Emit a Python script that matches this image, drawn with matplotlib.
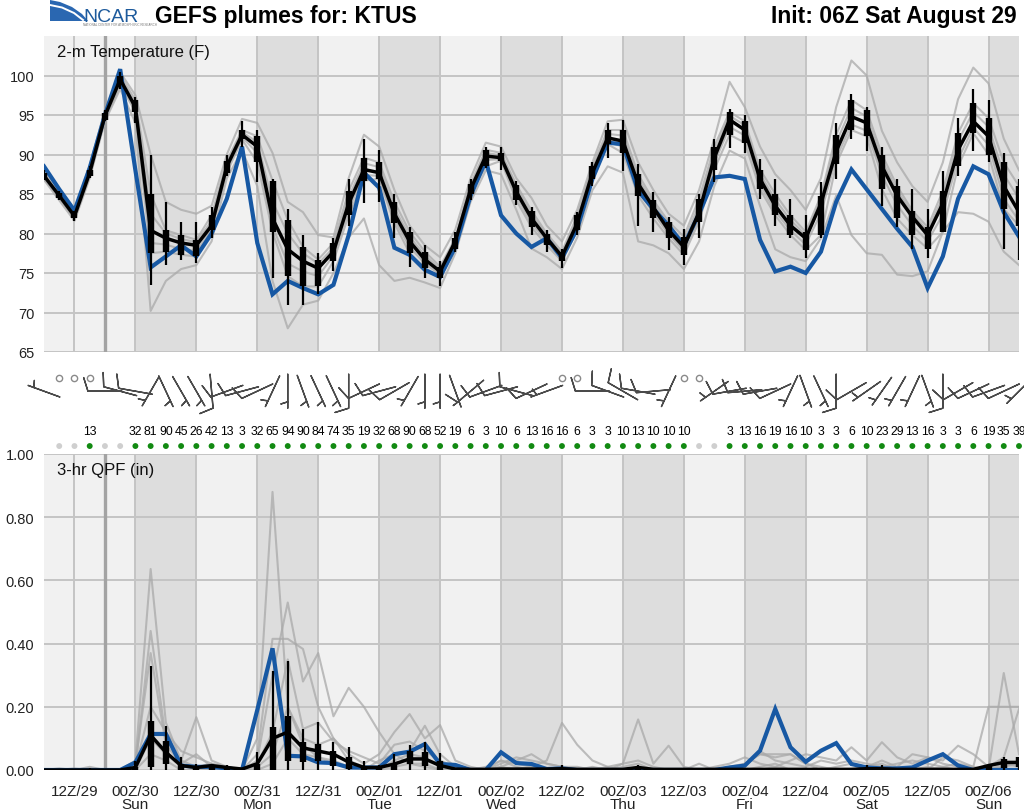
import numpy as np
import pandas as pd
import matplotlib
matplotlib.use('Agg')
import matplotlib.pyplot as plt
from matplotlib.patches import Polygon

plt.rcParams['font.family'] = ['Liberation Sans', 'DejaVu Sans']

# ---- dados ----
station = 'KTUS'
init = pd.Timestamp('2020-08-29 06:00')
hours = np.arange(0, 193, 3)          # horas de previsao, a cada 3 h

# 2-m temperatura (F): media do ensemble, controle (azul), caixa e bigodes
temp_mean = [87.3, 84.8, 82.2, 87.7, 94.9, 99.5, 96.0, 80.4, 79.4, 78.8,
             78.5, 81.0, 88.5, 92.5, 91.0, 81.9, 78.0, 76.5, 75.6, 77.7,
             83.8, 88.1, 87.7, 82.5, 79.0, 76.7, 75.2, 79.0, 85.6, 89.8,
             89.6, 85.3, 81.9, 79.4, 77.1, 81.3, 87.7, 92.1, 91.7, 86.3,
             83.3, 80.4, 78.3, 82.7, 89.6, 94.4, 93.1, 86.9, 83.5, 81.0,
             79.4, 83.8, 90.4, 94.8, 94.0, 88.5, 84.8, 82.1, 79.8, 83.8,
             90.6, 94.2, 92.3, 86.0, 82.7]
temp_ctrl = [88.5, 85.6, 82.9, 88.3, 95.0, 100.8, 88.0, 75.7, 77.1, 78.5,
             77.1, 80.0, 84.4, 91.0, 78.8, 72.3, 74.0, 73.1, 72.3, 73.5,
             79.8, 87.7, 85.8, 78.2, 77.3, 75.4, 74.5, 78.3, 84.8, 89.2,
             82.3, 80.0, 78.3, 79.4, 76.9, 80.6, 86.9, 91.5, 91.3, 85.4,
             83.1, 81.0, 78.5, 82.5, 87.1, 87.3, 86.9, 79.2, 75.2, 75.8,
             75.0, 77.7, 84.0, 88.1, 85.6, 83.1, 80.6, 78.3, 73.1, 77.1,
             84.4, 88.5, 87.5, 82.7, 79.6]
temp_box_lo = [87.0, 84.5, 81.9, 87.3, 94.4, 98.8, 95.4, 77.5, 77.7, 77.3,
               77.1, 80.4, 87.7, 91.9, 89.0, 80.2, 74.6, 73.3, 73.3, 76.5,
               82.3, 86.7, 86.9, 81.3, 77.5, 75.6, 74.4, 78.1, 85.0, 88.5,
               89.2, 84.2, 80.8, 78.5, 76.5, 80.4, 86.9, 91.3, 90.2, 84.8,
               81.9, 79.4, 77.3, 81.5, 88.1, 92.5, 91.5, 85.6, 82.3, 79.8,
               77.9, 79.8, 88.8, 93.1, 92.3, 85.6, 81.9, 79.8, 78.1, 80.2,
               88.5, 92.7, 90.0, 83.1, 81.0]
temp_box_hi = [87.6, 85.1, 82.5, 88.1, 95.2, 100.0, 96.9, 85.0, 80.4, 79.8,
               79.2, 82.3, 89.2, 93.1, 92.3, 86.7, 81.7, 78.3, 76.7, 78.8,
               85.4, 89.6, 89.0, 84.0, 80.2, 77.7, 75.8, 79.4, 86.3, 90.6,
               90.2, 86.2, 82.9, 80.0, 77.7, 82.3, 88.5, 93.1, 93.1, 87.5,
               84.2, 81.5, 79.6, 84.4, 91.0, 95.4, 94.2, 88.1, 85.0, 82.3,
               80.2, 84.8, 92.5, 96.9, 95.6, 90.0, 86.0, 82.9, 80.8, 85.4,
               92.7, 96.5, 94.6, 89.0, 86.0]
temp_whisk_lo = [86.8, 84.2, 81.6, 87.0, 94.2, 98.3, 94.0, 73.5, 76.0, 76.7,
                 76.3, 79.4, 87.3, 91.0, 86.5, 74.4, 71.0, 71.0, 72.3, 75.2,
                 81.0, 83.8, 84.0, 79.4, 75.8, 74.4, 73.3, 77.7, 84.2, 88.3,
                 88.1, 83.6, 79.8, 77.7, 75.6, 79.8, 86.0, 89.6, 87.9, 81.0,
                 80.2, 77.9, 76.0, 79.4, 86.5, 90.8, 90.2, 84.4, 81.0, 79.4,
                 76.9, 79.4, 86.9, 91.9, 90.4, 83.5, 80.8, 78.1, 76.9, 80.2,
                 87.3, 90.4, 89.0, 78.1, 76.7]
temp_whisk_hi = [88.0, 85.4, 82.8, 88.6, 95.6, 100.4, 97.3, 90.0, 84.0, 81.5,
                 81.5, 83.3, 90.0, 94.2, 93.1, 86.9, 83.1, 79.8, 77.5, 79.4,
                 86.9, 91.9, 90.6, 85.0, 80.8, 78.5, 76.5, 80.2, 86.9, 91.0,
                 91.0, 86.7, 83.3, 80.4, 78.1, 82.7, 89.0, 94.0, 94.4, 88.8,
                 85.2, 82.1, 80.6, 85.0, 91.9, 95.8, 95.0, 89.4, 86.9, 84.4,
                 82.3, 86.5, 94.0, 97.7, 96.0, 91.0, 86.9, 85.6, 83.1, 87.9,
                 94.6, 98.3, 96.9, 90.2, 86.9]

# alguns membros do ensemble (linhas cinzas)
tmem_a = [88.0, 85.5, 83.0, 88.6, 95.6, 100.4, 97.5, 90.0, 84.0, 83.0,
          82.5, 83.5, 90.0, 94.5, 94.0, 90.2, 84.0, 82.7, 79.8, 79.5,
          87.0, 92.5, 91.0, 85.5, 81.0, 78.5, 77.0, 80.5, 87.0, 91.5,
          91.0, 87.0, 84.5, 81.0, 79.0, 83.0, 89.0, 94.2, 94.4, 89.0,
          85.5, 82.5, 81.0, 85.5, 92.0, 99.2, 96.0, 91.0, 87.5, 85.5,
          83.0, 87.0, 96.0, 101.9, 100.0, 93.0, 89.0, 86.0, 84.0, 89.0,
          97.0, 101.0, 99.0, 92.0, 88.0]
tmem_b = [86.8, 84.2, 81.6, 87.0, 94.2, 98.3, 94.0, 70.2, 74.0, 75.5,
          76.0, 79.0, 87.0, 90.5, 86.0, 74.0, 68.0, 71.0, 71.5, 75.0,
          79.5, 81.9, 76.0, 74.0, 74.4, 73.8, 73.1, 77.5, 84.0, 88.0,
          87.5, 83.0, 78.1, 77.0, 75.5, 79.5, 85.5, 88.5, 87.7, 79.0,
          78.5, 77.5, 75.5, 79.0, 86.0, 90.5, 89.5, 83.5, 78.0, 77.0,
          76.5, 79.4, 84.8, 79.8, 77.5, 77.3, 74.8, 74.6, 75.2, 80.2,
          82.7, 82.5, 81.5, 77.7, 76.0]
tmem_c = [87.6, 85.1, 82.5, 88.2, 95.4, 100.0, 96.9, 85.0, 80.4, 79.8,
          79.2, 82.3, 89.2, 93.1, 92.3, 86.7, 81.7, 78.3, 76.7, 78.8,
          85.4, 89.6, 89.0, 84.0, 80.2, 77.7, 75.8, 79.4, 86.3, 90.6,
          90.2, 86.2, 82.9, 80.0, 77.7, 82.3, 88.5, 93.1, 93.1, 87.5,
          84.2, 81.5, 79.6, 84.4, 91.0, 95.4, 94.2, 88.1, 85.0, 82.3,
          80.2, 84.8, 92.5, 96.9, 95.6, 90.0, 86.0, 82.9, 80.8, 85.4,
          92.7, 96.5, 94.6, 89.0, 86.0]
tmem_d = [87.0, 84.5, 81.9, 87.3, 94.4, 98.8, 95.4, 77.5, 77.7, 77.3,
          77.1, 80.4, 87.7, 91.9, 89.0, 80.2, 74.6, 73.3, 73.3, 76.5,
          82.3, 86.7, 86.9, 81.3, 77.5, 75.6, 74.4, 78.1, 85.0, 88.5,
          89.2, 84.2, 80.8, 78.5, 76.5, 80.4, 86.9, 91.3, 90.2, 84.8,
          81.9, 79.4, 77.3, 81.5, 88.1, 92.5, 91.5, 85.6, 82.3, 79.8,
          77.9, 79.8, 88.8, 93.1, 92.3, 85.6, 81.9, 79.8, 78.1, 80.2,
          88.5, 92.7, 90.0, 83.1, 81.0]
tmem_e = [87.4, 84.9, 82.4, 87.9, 95.1, 99.7, 96.4, 82.5, 80.0, 79.3,
          78.9, 81.6, 88.9, 92.8, 91.6, 84.0, 80.0, 77.5, 76.2, 78.2,
          84.6, 88.9, 88.4, 83.2, 79.6, 77.2, 75.5, 79.2, 85.9, 90.2,
          89.9, 85.8, 82.4, 79.7, 77.4, 81.8, 88.1, 92.6, 92.4, 86.9,
          83.8, 81.0, 79.0, 83.6, 90.3, 94.9, 93.7, 87.5, 84.3, 81.7,
          79.8, 84.3, 91.5, 95.9, 94.8, 89.3, 85.4, 82.5, 80.3, 84.6,
          91.7, 95.4, 93.5, 87.5, 84.4]
tmem_f = [87.1, 84.6, 82.0, 87.5, 94.6, 99.1, 95.7, 78.8, 78.6, 78.0,
          77.8, 80.6, 88.1, 92.2, 90.2, 80.9, 76.2, 75.2, 74.6, 77.2,
          83.0, 87.4, 87.3, 81.8, 78.3, 76.2, 74.8, 78.6, 85.3, 89.3,
          89.4, 84.8, 81.3, 79.0, 76.8, 80.8, 87.3, 91.6, 91.0, 85.5,
          82.6, 79.9, 77.8, 82.0, 88.9, 93.5, 92.4, 86.2, 82.8, 80.4,
          78.6, 82.6, 89.5, 93.8, 93.0, 87.4, 83.6, 81.0, 79.0, 82.4,
          89.4, 93.4, 91.2, 84.4, 81.6]

# precipitacao 3 h (in)
qpf_mean = [0, 0, 0, 0, 0, 0, 0.008, 0.11, 0.056, 0.014,
            0.008, 0.014, 0.008, 0.003, 0.02, 0.10, 0.12, 0.07, 0.06, 0.05,
            0.025, 0.008, 0.008, 0.019, 0.035, 0.035, 0.014, 0.003, 0.002, 0.002,
            0.003, 0.003, 0.003, 0.003, 0.004, 0.002, 0.002, 0.002, 0.002, 0.008,
            0.002, 0.002, 0.002, 0.002, 0.002, 0.002, 0.002, 0.002, 0.002, 0.002,
            0.002, 0.002, 0.002, 0.002, 0.004, 0.004, 0.002, 0.002, 0.002, 0.002,
            0.002, 0.002, 0.014, 0.024, 0.024]
qpf_ctrl = [0, 0, 0, 0, 0, 0, 0.024, 0.114, 0.114, 0.014,
            0.01, 0.01, 0.005, 0, 0.19, 0.385, 0.045, 0.043, 0.024, 0.022,
            0.008, 0.008, 0.008, 0.05, 0.058, 0.082, 0.019, 0.016, 0, 0,
            0.056, 0.022, 0.019, 0.003, 0.005, 0, 0, 0, 0, 0,
            0, 0, 0, 0, 0, 0.008, 0.014, 0.061, 0.193, 0.072,
            0.026, 0.061, 0.085, 0.019, 0.008, 0.005, 0.005, 0.008, 0.03, 0.05,
            0.014, 0, 0, 0, 0]
qpf_box_lo = [0, 0, 0, 0, 0, 0, 0, 0.008, 0.019, 0,
              0, 0, 0, 0, 0, 0, 0.03, 0.024, 0.03, 0.014,
              0.003, 0, 0, 0, 0.019, 0.014, 0, 0, 0, 0,
              0, 0, 0, 0, 0, 0, 0, 0, 0, 0,
              0, 0, 0, 0, 0, 0, 0, 0, 0, 0,
              0, 0, 0, 0, 0, 0, 0, 0, 0, 0,
              0, 0, 0, 0.005, 0.01]
qpf_box_hi = [0, 0.003, 0.003, 0.003, 0, 0, 0.01, 0.156, 0.093, 0.02,
              0.01, 0.015, 0.01, 0, 0.02, 0.135, 0.172, 0.088, 0.082, 0.061,
              0.04, 0.01, 0.01, 0.02, 0.06, 0.058, 0.03, 0, 0, 0,
              0, 0, 0, 0, 0.005, 0, 0, 0, 0, 0.005,
              0, 0, 0, 0, 0, 0, 0, 0, 0, 0,
              0, 0, 0, 0, 0.004, 0.004, 0, 0, 0, 0,
              0, 0, 0.015, 0.035, 0.04]
qpf_whisk_hi = [0.002, 0.004, 0.004, 0.006, 0, 0, 0.03, 0.33, 0.14, 0.04,
                0.02, 0.02, 0.015, 0.005, 0.056, 0.314, 0.346, 0.13, 0.153, 0.09,
                0.072, 0.03, 0.015, 0.05, 0.08, 0.088, 0.054, 0.004, 0, 0,
                0.006, 0.004, 0.004, 0.004, 0.015, 0.004, 0, 0, 0, 0.015,
                0.003, 0, 0, 0, 0, 0, 0.004, 0.004, 0.004, 0.004,
                0, 0, 0.004, 0.004, 0.015, 0.015, 0.004, 0.004, 0.004, 0.004,
                0.004, 0.004, 0.02, 0.04, 0.04]
qpf_whisk_lo = [0.0] * 65   # minimo do ensemble e zero em todos os horarios

qmem_a = [0, 0, 0.005, 0, 0, 0, 0.03, 0.636, 0.15, 0.03,
          0.01, 0.02, 0, 0, 0.10, 0.88, 0.20, 0.08, 0.04, 0.02,
          0.01, 0, 0.03, 0.05, 0.02, 0.01, 0, 0, 0, 0,
          0, 0, 0.01, 0.03, 0.149, 0.08, 0.03, 0.01, 0, 0,
          0, 0, 0, 0, 0, 0.01, 0.02, 0.05, 0.04, 0.05,
          0.02, 0.01, 0, 0, 0.01, 0.02, 0, 0, 0.01, 0,
          0, 0, 0, 0.307, 0.05]
qmem_b = [0, 0.005, 0, 0.01, 0, 0, 0.01, 0.44, 0.10, 0.03,
          0.167, 0.03, 0.01, 0, 0.05, 0.415, 0.415, 0.383, 0.2, 0.1,
          0.05, 0.02, 0.05, 0.12, 0.177, 0.10, 0.142, 0.03, 0.01, 0,
          0.02, 0.04, 0.03, 0.02, 0.01, 0, 0, 0, 0.02, 0.16,
          0.02, 0.077, 0.01, 0, 0, 0, 0.01, 0.06, 0.03, 0.02,
          0.01, 0.03, 0.02, 0.03, 0.02, 0.01, 0.02, 0.03, 0.02, 0.01,
          0.02, 0.01, 0.2, 0.2, 0.2]
qmem_c = [0, 0, 0, 0, 0, 0, 0.02, 0.37, 0.08, 0.02,
          0.05, 0.01, 0, 0, 0.03, 0.3, 0.53, 0.28, 0.37, 0.17,
          0.26, 0.2, 0.12, 0.05, 0.06, 0.14, 0.05, 0.01, 0, 0,
          0.01, 0.03, 0.05, 0.02, 0.01, 0.01, 0, 0.01, 0.02, 0.03,
          0.01, 0, 0, 0, 0.01, 0.02, 0.04, 0.02, 0.01, 0.03,
          0.05, 0.04, 0.03, 0.072, 0.03, 0.088, 0.04, 0.02, 0.04, 0.03,
          0.077, 0.05, 0.01, 0.04, 0.193]
qmem_d = [0, 0, 0, 0, 0, 0, 0.01, 0.2, 0.12, 0.06,
          0.04, 0.02, 0.01, 0, 0.02, 0.12, 0.35, 0.13, 0.15, 0.09,
          0.06, 0.04, 0.02, 0.08, 0.09, 0.06, 0.03, 0.01, 0, 0.01,
          0.03, 0.02, 0.01, 0, 0, 0, 0.01, 0, 0.01, 0.02,
          0, 0, 0, 0.02, 0, 0, 0.02, 0.05, 0.05, 0.05,
          0.02, 0, 0.01, 0.02, 0.01, 0.03, 0.01, 0.05, 0.04, 0.02,
          0.01, 0, 0, 0.01, 0.02]
qmem_e = [0, 0, 0, 0, 0, 0, 0, 0.1, 0.05, 0.01,
          0.01, 0, 0, 0, 0.01, 0.05, 0.2, 0.1, 0.08, 0.1,
          0.03, 0.01, 0, 0.03, 0.05, 0.04, 0.01, 0, 0, 0,
          0.03, 0.01, 0, 0, 0, 0, 0, 0, 0, 0.01,
          0, 0, 0, 0, 0, 0, 0, 0.01, 0.02, 0,
          0, 0, 0, 0, 0, 0.01, 0, 0, 0, 0.04,
          0.03, 0.01, 0, 0.02, 0.01]
qmem_f = [0, 0, 0, 0, 0, 0, 0, 0.05, 0.03, 0,
          0, 0, 0, 0, 0, 0.02, 0.1, 0.05, 0.04, 0.03,
          0.01, 0, 0, 0.01, 0.02, 0.02, 0, 0, 0, 0,
          0.01, 0, 0, 0, 0, 0, 0, 0, 0, 0,
          0, 0, 0, 0, 0, 0, 0, 0, 0.01, 0,
          0, 0, 0, 0, 0, 0, 0, 0, 0, 0.01,
          0, 0, 0, 0.01, 0.03]

# probabilidade de precipitacao (%), de 3 h a 192 h
pop = [0, 0, 13, 0, 0, 32, 81, 90, 45, 26, 42, 13, 3, 32, 65, 94, 90, 84, 74, 35,
       19, 32, 68, 90, 68, 52, 19, 6, 3, 10, 6, 13, 16, 16, 6, 3, 3, 10, 13, 10,
       10, 10, 0, 0, 3, 13, 16, 19, 16, 10, 3, 3, 6, 10, 23, 29, 13, 16, 3, 3,
       6, 19, 35, 39]

# vento 10 m: direcao (graus, de onde vem) e velocidade (kt)
wind_dir = [290, 0, 0, 0, 270, 285, 280, 210, 155, 150,
            150, 175, 250, 255, 245, 205, 180, 160, 155, 155,
            180, 245, 255, 240, 210, 180, 180, 160, 230, 250,
            255, 285, 245, 250, 0, 0, 270, 290, 300, 280,
            265, 205, 0, 0, 235, 260, 265, 260, 245, 205,
            160, 155, 180, 240, 235, 215, 210, 205, 160, 180,
            240, 245, 250, 245, 225]
wind_spd = [5, 0, 0, 0, 10, 10, 10, 5, 5, 5,
            5, 10, 10, 10, 10, 5, 5, 5, 5, 5,
            10, 10, 10, 10, 5, 5, 5, 5, 10, 10,
            10, 10, 10, 5, 0, 0, 10, 10, 10, 10,
            10, 5, 0, 0, 5, 10, 10, 10, 10, 5,
            5, 5, 10, 10, 5, 5, 5, 5, 5, 10,
            10, 10, 10, 10, 5]

now_hour = 12   # linha vertical cinza (hora atual)

temp_members = [tmem_a, tmem_b, tmem_c, tmem_d, tmem_e, tmem_f]
qpf_members = [qmem_a, qmem_b, qmem_c, qmem_d, qmem_e, qmem_f]

# ---- figura ----
W, H = 1024, 812
fig = plt.figure(figsize=(W / 100, H / 100), dpi=100)

LIGHT = '#f1f1f1'
DARK = '#dddddd'
GRID = '#c4c4c4'
BLUE = '#1758a3'
MEMB = '#a9a9a9'

tick_hours = np.arange(6, 192, 12)
first_night = (24 - init.hour) % 24


def base_panel(ax):
    ax.set_facecolor(LIGHT)
    for h0 in range(first_night, 193, 24):
        ax.axvspan(h0, min(h0 + 12, 192), color=DARK, lw=0, zorder=0.2)
    ax.set_xlim(0, 192)
    ax.set_xticks(tick_hours)
    ax.set_axisbelow(True)
    ax.grid(True, color=GRID, lw=1.4)
    ax.axvline(now_hour, color='#a3a3a3', lw=2.4, zorder=0.6)
    for s in ax.spines.values():
        s.set_visible(False)
    ax.tick_params(length=0, labelsize=10.5, colors='#222222', pad=7)


def plume(ax, members, ctrl, mean, blo, bhi, wlo, whi):
    for m in members:
        ax.plot(hours, m, color=MEMB, lw=1.5, alpha=0.75, zorder=2)
    ax.plot(hours, ctrl, color=BLUE, lw=3.0, zorder=3, solid_joinstyle='miter')
    ax.plot(hours, mean, color='black', lw=2.5, zorder=4)
    ax.vlines(hours, wlo, whi, color='black', lw=1.6, zorder=5)
    ax.vlines(hours, blo, bhi, color='black', lw=4.6, zorder=6)


# painel de temperatura
ax_t = fig.add_axes([44 / W, 1 - 353 / H, 975 / W, 316 / H])
base_panel(ax_t)
ax_t.set_ylim(65, 105)
ax_t.set_yticks(range(65, 101, 5))
ax_t.tick_params(axis='x', labelbottom=False)
plume(ax_t, temp_members, temp_ctrl, temp_mean,
      temp_box_lo, temp_box_hi, temp_whisk_lo, temp_whisk_hi)
ax_t.text(0.0135, 0.975, '2-m Temperature (F)', transform=ax_t.transAxes,
          va='top', ha='left', fontsize=12, color='#111111', zorder=8)

# painel de precipitacao
ax_q = fig.add_axes([44 / W, 1 - 771 / H, 975 / W, 316 / H])
base_panel(ax_q)
ax_q.set_ylim(0, 1)
ax_q.set_yticks(np.arange(0, 1.01, 0.2))
ax_q.set_yticklabels([f'{v:.2f}' for v in np.arange(0, 1.01, 0.2)])
labels = []
for h in tick_hours:
    t = init + pd.Timedelta(hours=int(h))
    lab = f'{t:%H}Z/{t:%d}'
    if t.hour == 0:
        lab += f'\n{t:%a}'
    labels.append(lab)
ax_q.set_xticklabels(labels, fontsize=11, linespacing=0.95, va='top')
ax_q.tick_params(axis='x', pad=10)
plume(ax_q, qpf_members, qpf_ctrl, qpf_mean,
      qpf_box_lo, qpf_box_hi, qpf_whisk_lo, qpf_whisk_hi)
ax_q.text(0.0135, 0.975, '3-hr QPF (in)', transform=ax_q.transAxes,
          va='top', ha='left', fontsize=12, color='#111111', zorder=8)

# faixa do vento e probabilidade de chuva
ax_w = fig.add_axes([44 / W, 1 - 452 / H, 975 / W, 92 / H])
ax_w.set_xlim(0, 192)
ax_w.set_ylim(0, 1)
ax_w.axis('off')

spd = np.array(wind_spd, dtype=float)
rad = np.deg2rad(wind_dir)
u = -spd * np.sin(rad)
v = -spd * np.cos(rad)
windy = spd > 0
ax_w.barbs(hours[windy], np.full(windy.sum(), 0.65), u[windy], v[windy],
           length=7.0, pivot='middle', color='#4a4a4a', linewidth=1.0,
           clip_on=False)
ax_w.plot(hours[~windy], np.full((~windy).sum(), 0.79), 'o', mfc='none',
          mec='#8a8a8a', ms=4.5, mew=1.0)

pop = np.array(pop)
hours_p = hours[1:]
ax_w.scatter(hours_p, np.full(len(pop), 0.054), s=18, lw=0, clip_on=False,
             c=np.where(pop > 0, '#128a12', '#cfcfcf'))
for h, p in zip(hours_p, pop):
    if p > 0:
        ax_w.text(h, 0.217, str(p), ha='center', va='center', fontsize=8.8,
                  family=['Liberation Sans Narrow', 'Liberation Sans'])

# cabecalho
fig.text(155 / W, 1 - 16 / H, f'GEFS plumes for: {station}', fontsize=16.5,
         weight='bold', va='center', ha='left')
fig.text(1017 / W, 1 - 16 / H,
         f'Init: {init:%H}Z {init:%a} {init:%B} {init.day}', fontsize=16.5,
         weight='bold', va='center', ha='right')

# logo NCAR (aproximado)
ax_l = fig.add_axes([48 / W, 1 - 30 / H, 100 / W, 30 / H])
ax_l.set_xlim(0, 100)
ax_l.set_ylim(0, 30)
ax_l.axis('off')
ax_l.add_patch(Polygon([(2, 8), (2, 29), (12, 27), (24, 22), (34, 15), (40, 8)],
                       closed=True, color='#2a67b1', lw=0))
ax_l.plot([2, 14, 26, 35], [24, 21.5, 16, 9], color='white', lw=1.4)
ax_l.text(35, 8.5, 'NCAR', fontsize=14, color='#1d5a9c', va='baseline',
          ha='left')
ax_l.text(35, 3.5, 'NATIONAL CENTER FOR ATMOSPHERIC RESEARCH', fontsize=2.2,
          color='#777777', va='baseline', ha='left')

fig.savefig('out.png', dpi=100, facecolor='white')
